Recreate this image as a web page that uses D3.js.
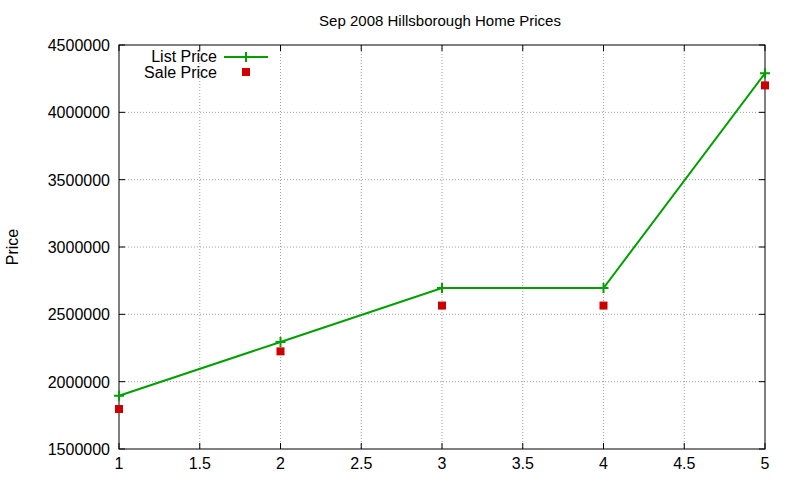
<!DOCTYPE html>
<html><head><meta charset="utf-8">
<script src="https://cdn.jsdelivr.net/npm/d3@7"></script>
<style>body{margin:0;background:#fff}text{font-family:"Liberation Sans",Arial,sans-serif;}</style>
</head><body><svg id="c" width="800" height="480"></svg>
<script>
const xs = [1,2,3,4,5];
const listPrice = [1895000,2295000,2695000,2695000,4290000];
const salePrice = [1797000,2225000,2565000,2565000,4200000];
const xTicks = [1,1.5,2,2.5,3,3.5,4,4.5,5];
const yTicks = [1500000,2000000,2500000,3000000,3500000,4000000,4500000];

const svg = d3.select("#c");
const L=119,R=765,T=45,B=449;
const x = d3.scaleLinear().domain([1,5]).range([L,R]);
const y = d3.scaleLinear().domain([1500000,4500000]).range([B,T]);
const g = svg.append("g");
xTicks.forEach(t=>{ if(t>1&&t<5) g.append("line").attr("x1",x(t)).attr("x2",x(t)).attr("y1",T).attr("y2",B).attr("stroke","#a0a0a0").attr("stroke-dasharray","1,2");});
yTicks.forEach(t=>{ if(t>1500000&&t<4500000) g.append("line").attr("x1",L).attr("x2",R).attr("y1",y(t)).attr("y2",y(t)).attr("stroke","#a0a0a0").attr("stroke-dasharray","1,2");});
xTicks.forEach(t=>{
  g.append("line").attr("x1",x(t)).attr("x2",x(t)).attr("y1",B).attr("y2",B-6).attr("stroke","#000");
  g.append("line").attr("x1",x(t)).attr("x2",x(t)).attr("y1",T).attr("y2",T+6).attr("stroke","#000");
  g.append("text").attr("x",x(t)).attr("y",B+20).attr("text-anchor","middle").attr("font-size",16).text(t);
});
yTicks.forEach(t=>{
  g.append("line").attr("x1",L).attr("x2",L+6).attr("y1",y(t)).attr("y2",y(t)).attr("stroke","#000");
  g.append("line").attr("x1",R).attr("x2",R-6).attr("y1",y(t)).attr("y2",y(t)).attr("stroke","#000");
  g.append("text").attr("x",L-9).attr("y",y(t)+6).attr("text-anchor","end").attr("font-size",16).text(t);
});
g.append("rect").attr("x",L).attr("y",T).attr("width",R-L).attr("height",B-T).attr("fill","none").attr("stroke","#000");
svg.append("text").attr("x",440).attr("y",26).attr("text-anchor","middle").attr("font-size",15).text("Sep 2008 Hillsborough Home Prices");
svg.append("text").attr("transform","translate(18,247) rotate(-90)").attr("text-anchor","middle").attr("font-size",16).text("Price");
const line = d3.line().x((d,i)=>x(xs[i])).y(d=>y(d));
svg.append("path").datum(listPrice).attr("d",line).attr("fill","none").attr("stroke","#00a000").attr("stroke-width",2);
function plus(px,py){svg.append("path").attr("d",`M${px-5},${py}H${px+5}M${px},${py-5}V${py+5}`).attr("stroke","#00a000").attr("stroke-width",2);}
listPrice.forEach((v,i)=>plus(x(xs[i]),y(v)));
salePrice.forEach((v,i)=>svg.append("rect").attr("x",x(xs[i])-4).attr("y",y(v)-4).attr("width",8).attr("height",8).attr("fill","#cc0000"));
svg.append("text").attr("x",217).attr("y",62).attr("text-anchor","end").attr("font-size",16).text("List Price");
svg.append("line").attr("x1",224).attr("x2",268).attr("y1",57).attr("y2",57).attr("stroke","#00a000").attr("stroke-width",2);
plus(246,57);
svg.append("text").attr("x",217).attr("y",78).attr("text-anchor","end").attr("font-size",16).text("Sale Price");
svg.append("rect").attr("x",242).attr("y",68).attr("width",8).attr("height",8).attr("fill","#cc0000");
</script></body></html>
